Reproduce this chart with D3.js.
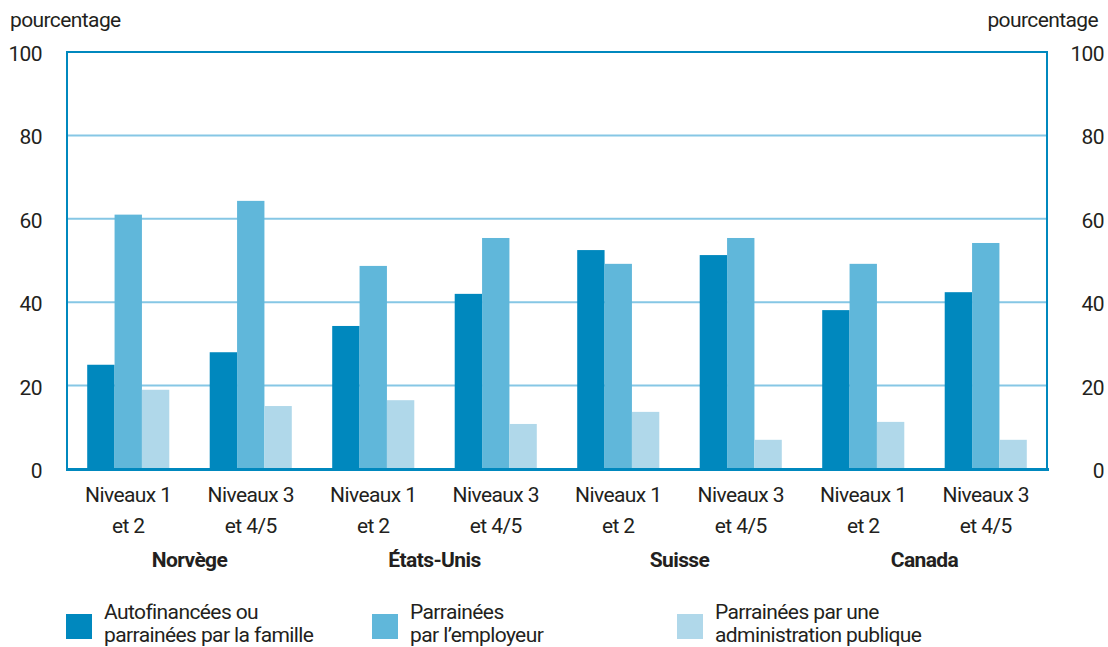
<!DOCTYPE html>
<html>
<head>
<meta charset="utf-8">
<script src="https://cdn.jsdelivr.net/npm/d3@7"></script>
<style>
  body { margin: 0; background: #fff; }
  svg text { font-family: Roboto, "Liberation Sans", sans-serif; fill: #231f20; letter-spacing: -0.6px; }
</style>
</head>
<body>
<svg width="1108" height="647"></svg>
<script>
'use strict';

// data
var countries = ['Norvège', 'États-Unis', 'Suisse', 'Canada'];
var levels = [['Niveaux 1', 'et 2'], ['Niveaux 3', 'et 4/5']];
var seriesNames = [
    ['Autofinancées ou', 'parrainées par la famille'],
    ['Parrainées', 'par l\u2019employeur'],
    ['Parrainées par une', 'administration publique']
];
var selfFunded = [25, 28, 34.3, 42, 52.5, 51.3, 38.1, 42.4];
var employer   = [61, 64.3, 48.7, 55.4, 49.2, 55.4, 49.2, 54.2];
var government = [19, 15.1, 16.5, 10.8, 13.7, 7, 11.3, 7];
var yTicks = [0, 20, 40, 60, 80, 100];

var colors = ['#0088be', '#60b7da', '#b0d8ea'];
var margin = {top: 52, left: 67, right: 61, bottom: 178};
var width = 1108 - margin.left - margin.right;
var height = 647 - margin.top - margin.bottom;
var fontSize = 21;

var groups = [];
countries.forEach(function(c, i) {
    levels.forEach(function(l, j) {
        groups.push({key: c + j, country: c, level: l, idx: i * 2 + j});
    });
});
var values = [selfFunded, employer, government];

var svg = d3.select('svg');
var g = svg.append('g')
    .attr('transform', 'translate(' + margin.left + ',' + margin.top + ')');

var x = d3.scaleBand().range([0, width]).domain(groups.map(function(d) { return d.key; }))
    .paddingInner(0.33).paddingOuter(0.165);
var x1 = d3.scaleBand().range([0, x.bandwidth()]).domain([0, 1, 2]);
var y = d3.scaleLinear().range([height, 0]).domain([0, 100]);

// gridlines
g.selectAll('.grid')
    .data(yTicks)
    .enter().append('line')
    .attr('x1', 0).attr('x2', width)
    .attr('y1', function(d) { return y(d); })
    .attr('y2', function(d) { return y(d); })
    .attr('stroke', '#86c7e5')
    .attr('stroke-width', 2);

// bars
groups.forEach(function(grp) {
    values.forEach(function(arr, s) {
        g.append('rect')
            .attr('x', x(grp.key) + x1(s))
            .attr('y', y(arr[grp.idx]))
            .attr('width', x1.bandwidth())
            .attr('height', height - y(arr[grp.idx]))
            .attr('fill', colors[s]);
    });
});

// frame
g.append('path')
    .attr('d', 'M0,' + height + 'V0H' + width + 'V' + height)
    .attr('fill', 'none')
    .attr('stroke', '#0088be')
    .attr('stroke-width', 2);
g.append('line')
    .attr('x1', -1).attr('x2', width + 2)
    .attr('y1', height + 0.5).attr('y2', height + 0.5)
    .attr('stroke', '#0088be')
    .attr('stroke-width', 3);

// y axes
var yLeft = d3.axisLeft(y).tickValues(yTicks).tickSize(0).tickPadding(25);
var yRight = d3.axisRight(y).tickValues(yTicks).tickSize(0).tickPadding(0);
var la = g.append('g').call(yLeft);
var ra = g.append('g').attr('transform', 'translate(' + width + ',0)').call(yRight);
[la, ra].forEach(function(a) {
    a.select('.domain').remove();
    a.selectAll('text').attr('font-size', fontSize).attr('font-family', null).attr('dy', '0.4em');
});
ra.selectAll('text').attr('text-anchor', 'end').attr('x', 57);

svg.append('text').attr('x', 10).attr('y', 27).attr('font-size', fontSize).text('pourcentage');
svg.append('text').attr('x', 1098).attr('y', 27).attr('font-size', fontSize)
    .attr('text-anchor', 'end').text('pourcentage');

// x labels
var xl = g.selectAll('.xl')
    .data(groups)
    .enter().append('text')
    .attr('text-anchor', 'middle')
    .attr('font-size', fontSize)
    .attr('transform', function(d) { return 'translate(' + (x(d.key) + x.bandwidth() / 2) + ',0)'; });
xl.append('tspan').attr('x', 0).attr('y', height + 33).text(function(d) { return d.level[0]; });
xl.append('tspan').attr('x', 0).attr('y', height + 64).text(function(d) { return d.level[1]; });

g.selectAll('.country')
    .data(countries)
    .enter().append('text')
    .attr('text-anchor', 'middle')
    .attr('font-size', fontSize)
    .attr('font-weight', 'bold')
    .attr('x', function(d, i) {
        return (x(groups[i * 2].key) + x(groups[i * 2 + 1].key) + x.bandwidth()) / 2;
    })
    .attr('y', height + 98)
    .text(function(d) { return d; });

// legend
var legendX = [66, 372, 677];
var leg = svg.selectAll('.legend')
    .data(seriesNames)
    .enter().append('g')
    .attr('transform', function(d, i) { return 'translate(' + legendX[i] + ',614)'; });
leg.append('rect').attr('width', 26).attr('height', 25)
    .attr('fill', function(d, i) { return colors[i]; });
var lt = leg.append('text').attr('font-size', fontSize);
lt.append('tspan').attr('x', 38).attr('y', 5).text(function(d) { return d[0]; });
lt.append('tspan').attr('x', 38).attr('y', 28).text(function(d) { return d[1]; });
</script>
</body>
</html>
